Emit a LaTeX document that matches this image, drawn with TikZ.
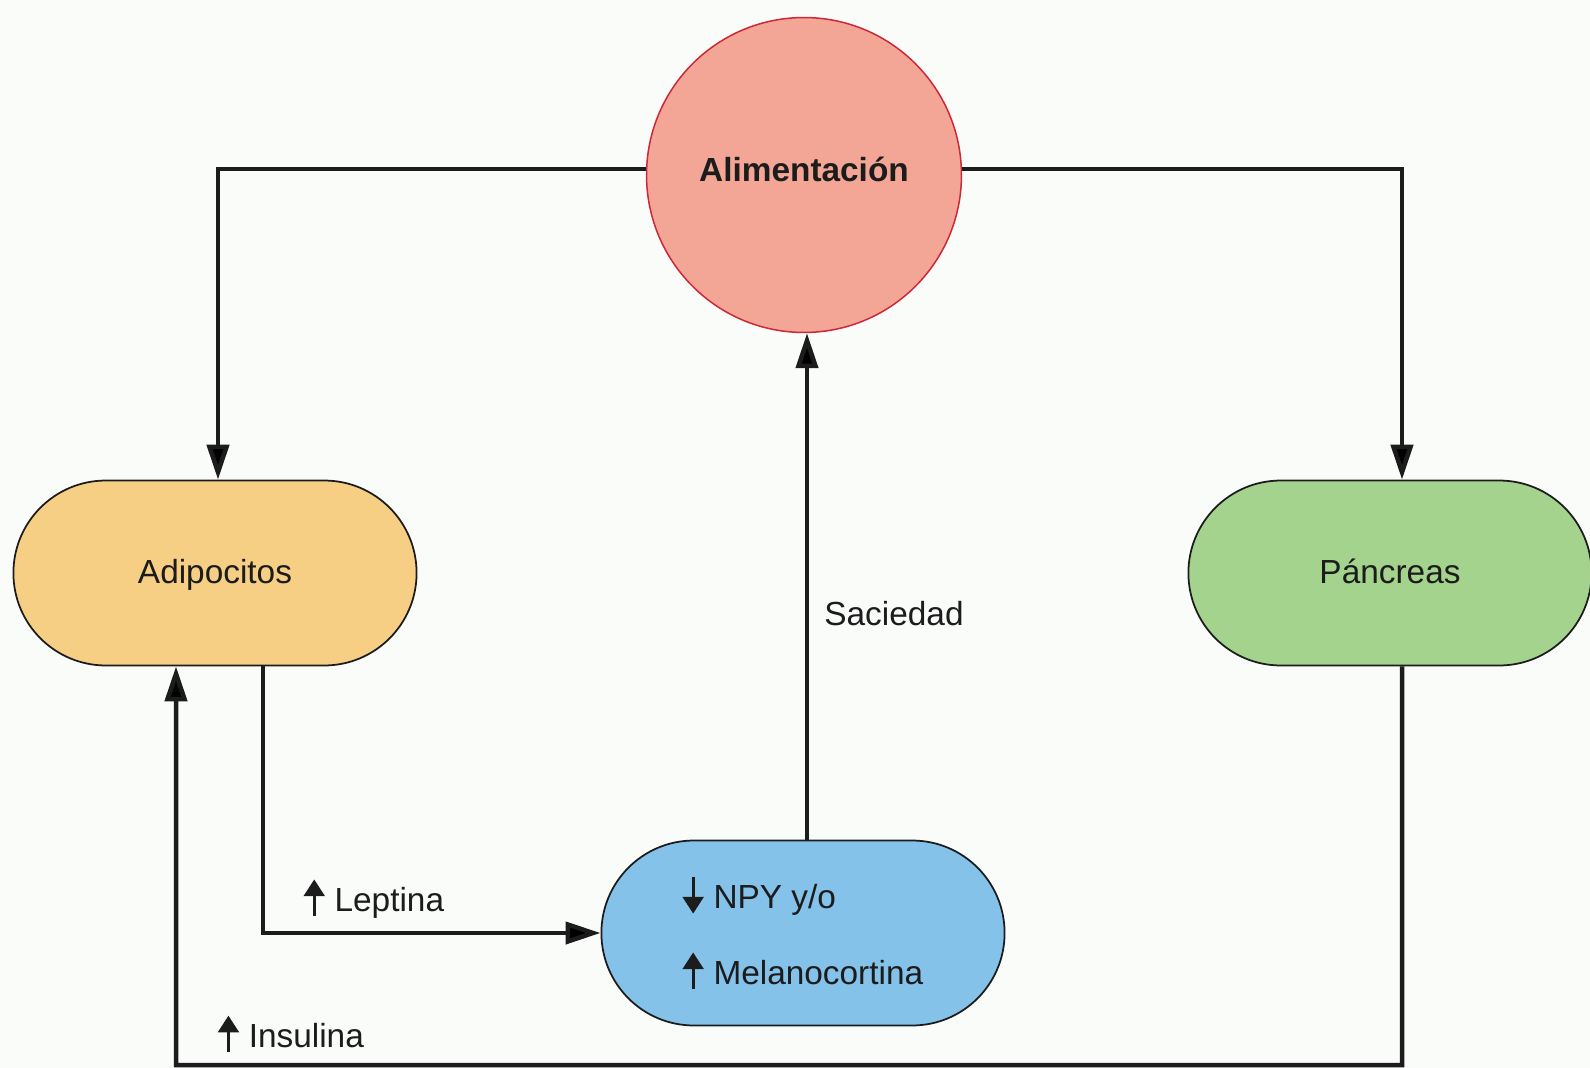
\documentclass[tikz,border=0pt]{standalone}
\usepackage{fontspec}
\setmainfont{Liberation Sans}
\usetikzlibrary{arrows.meta,shapes.misc,positioning}

\definecolor{paper}{RGB}{250,252,250}
\definecolor{txt}{RGB}{28,28,28}
\definecolor{salmon}{RGB}{244,166,150}
\definecolor{ringred}{RGB}{205,40,55}
\definecolor{adipo}{RGB}{247,207,132}
\definecolor{pancr}{RGB}{164,211,142}
\definecolor{hypo}{RGB}{132,194,234}

% small arrows used inside the labels
\newcommand{\uparr}{\tikz[baseline=0pt]\draw[draw=txt,line width=0.09em,-{Triangle[length=0.5em,width=0.62em]}] (0,-0.15em) -- (0,0.95em);}
\newcommand{\dnarr}{\tikz[baseline=0pt]\draw[draw=txt,line width=0.09em,-{Triangle[length=0.5em,width=0.62em]}] (0,0.95em) -- (0,-0.15em);}

\begin{document}
\begin{tikzpicture}[x=0.02cm,y=-0.02cm,
    font=\fontsize{19}{23}\selectfont,
    flow/.style={line width=0.09cm,draw=txt,-{Triangle[length=0.7cm,width=0.44cm]}},
    pill/.style={rounded rectangle,draw=txt,line width=0.035cm,minimum width=8.3cm,minimum height=3.7cm,text=txt},
    onetext/.style={text height=1.25em,text depth=0em},
    lbl/.style={text=txt}]
    \fill[paper] (0,0) rectangle (1590,1068);
    \useasboundingbox (0,0) rectangle (1590,1068);

    \node[circle,draw=ringred,fill=salmon,line width=0.03cm,minimum size=6.3cm,text=txt,font=\fontsize{19}{23}\selectfont\bfseries] (ali) at (804,175) {\raisebox{0.22cm}{Alimentación}};
    \node[pill,onetext,fill=adipo] (adi) at (215,573) {Adipocitos};
    \node[pill,onetext,fill=pancr] (pan) at (1390,573) {Páncreas};
    \node[pill,fill=hypo,align=left] (hyp) at (803,933) {\dnarr\hspace{0.3em}NPY y/o\\[20pt]\uparr\hspace{0.3em}Melanocortina};

    \draw[flow] ([yshift=0.12cm]ali.west) -| ([xshift=0.06cm]adi.north);
    \draw[flow] ([yshift=0.12cm]ali.east) -| ([xshift=0.24cm]pan.north);
    \draw[flow] ([xshift=0.08cm]hyp.north) -- ([xshift=0.06cm]ali.south);
    \draw[flow] ([xshift=0.96cm]adi.south) |- (hyp.west);
    \coordinate (cbot) at (176,1065);
    \draw[flow] ([xshift=0.24cm]pan.south) |- (cbot) -- ([xshift=-0.78cm]adi.south);

    \node[lbl] (sac) at (894,614) {Saciedad};
    \node[lbl] (lep) at (374,898) {\uparr\hspace{0.3em}Leptina};
    \node[lbl] (ins) at (291,1034) {\uparr\hspace{0.3em}Insulina};
\end{tikzpicture}
\end{document}
